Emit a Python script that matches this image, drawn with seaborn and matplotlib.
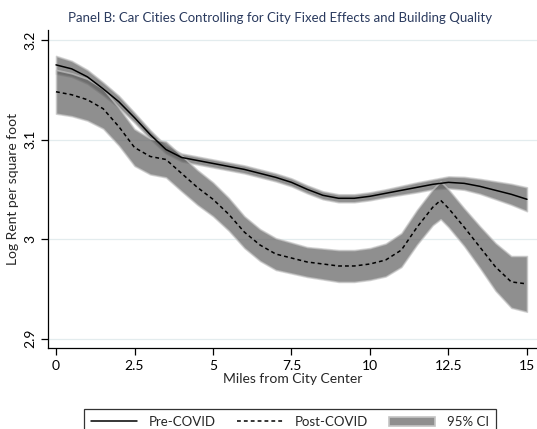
import matplotlib
matplotlib.use("Agg")
import matplotlib.pyplot as plt
import seaborn as sns
import pandas as pd
from matplotlib.lines import Line2D
from matplotlib.patches import Patch

# Valores
miles = [0, 0.5, 1, 1.5, 2, 2.5, 3, 3.5, 4, 4.5, 5, 5.5, 6, 6.5, 7, 7.5, 8, 8.5,
         9, 9.5, 10, 10.5, 11, 11.5, 12, 12.25, 12.5, 13, 13.5, 14, 14.5, 15]
pre = [3.175, 3.171, 3.163, 3.151, 3.138, 3.122, 3.105, 3.090, 3.082, 3.079, 3.076,
       3.073, 3.070, 3.066, 3.062, 3.057, 3.050, 3.044, 3.041, 3.041, 3.043, 3.046,
       3.049, 3.052, 3.055, 3.056, 3.057, 3.056, 3.053, 3.049, 3.045, 3.040]
pre_ci = [0.009, 0.008, 0.007, 0.0065, 0.006, 0.005, 0.0045, 0.004, 0.004, 0.004, 0.004,
          0.004, 0.004, 0.004, 0.004, 0.004, 0.004, 0.004, 0.004, 0.004, 0.004, 0.004,
          0.0045, 0.005, 0.005, 0.0055, 0.006, 0.0065, 0.0075, 0.009, 0.0105, 0.012]
post = [3.148, 3.145, 3.140, 3.131, 3.113, 3.092, 3.083, 3.080, 3.066, 3.052, 3.040,
        3.025, 3.007, 2.994, 2.985, 2.981, 2.977, 2.975, 2.973, 2.973, 2.975, 2.979,
        2.989, 3.012, 3.032, 3.039, 3.031, 3.012, 2.992, 2.972, 2.957, 2.955]
post_ci = [0.022, 0.0215, 0.021, 0.020, 0.019, 0.0185, 0.018, 0.018, 0.018, 0.0175, 0.017,
           0.0165, 0.016, 0.016, 0.016, 0.0155, 0.015, 0.0155, 0.016, 0.016, 0.016, 0.0165,
           0.017, 0.0175, 0.018, 0.019, 0.019, 0.019, 0.021, 0.024, 0.026, 0.028]

df = pd.DataFrame({'miles': miles, 'pre': pre, 'post': post,
                   'pre_ci': pre_ci, 'post_ci': post_ci})

sns.set_style("white")
plt.rcParams['font.family'] = ['Lato', 'DejaVu Sans']

fig = plt.figure(figsize=(5.37, 4.29), dpi=100)
ax = fig.add_axes([0.0894, 0.189, 0.9106, 0.741])

band_col = '#606060'
edge_col = '#c4c4c4'
ax.fill_between(df['miles'], df['pre'] - df['pre_ci'], df['pre'] + df['pre_ci'],
                color=band_col, alpha=0.7, edgecolor=edge_col, linewidth=1.2, zorder=2)
ax.fill_between(df['miles'], df['post'] - df['post_ci'], df['post'] + df['post_ci'],
                color=band_col, alpha=0.7, edgecolor=edge_col, linewidth=1.2, zorder=2)

sns.lineplot(data=df, x='miles', y='pre', ax=ax, color='black', linewidth=1.1, zorder=3)
sns.lineplot(data=df, x='miles', y='post', ax=ax, color='black', linewidth=1.1,
             linestyle=(0, (2.5, 2)), zorder=3)

ax.set_xlim(-0.255, 15.32)
ax.set_ylim(2.8907, 3.21)
ax.set_xticks([0, 2.5, 5, 7.5, 10, 12.5, 15])
ax.set_xticklabels(['0', '2.5', '5', '7.5', '10', '12.5', '15'])
ax.set_yticks([2.9, 3.0, 3.1, 3.2])
ax.set_yticklabels(['2.9', '3', '3.1', '3.2'], rotation=90, va='center')
ax.yaxis.grid(True, color='#e3ecee', linewidth=0.9)
ax.set_axisbelow(True)
ax.tick_params(axis='both', direction='out', length=5, width=0.9, colors='black',
               labelsize=10, left=True, bottom=True)
for s in ['top', 'right']:
    ax.spines[s].set_visible(False)
for s in ['left', 'bottom']:
    ax.spines[s].set_color('black')
    ax.spines[s].set_linewidth(0.9)

ax.set_xlabel('Miles from City Center', fontsize=10, labelpad=1)
ax.set_ylabel('Log Rent per square foot', fontsize=10, labelpad=4)
fig.text(0.522, 0.958, 'Panel B: Car Cities Controlling for City Fixed Effects and Building Quality',
         ha='center', va='center', fontsize=9.5, color='#2a3a5e')

handles = [Line2D([], [], color='black', linewidth=1.1),
           Line2D([], [], color='black', linewidth=1.1, linestyle=(0, (2.5, 2))),
           Patch(facecolor='#8f8f8f', edgecolor=edge_col, linewidth=1.2)]
leg = fig.legend(handles, ['Pre-COVID', 'Post-COVID', '95% CI'], loc='upper center',
                 bbox_to_anchor=(0.54, 0.061), ncol=3, frameon=True, fancybox=False,
                 edgecolor='black', handlelength=3.5, handletextpad=0.9,
                 columnspacing=1.6, fontsize=9.5, borderpad=0.5)
leg.get_frame().set_linewidth(0.9)

fig.savefig('out.png', dpi=100)
